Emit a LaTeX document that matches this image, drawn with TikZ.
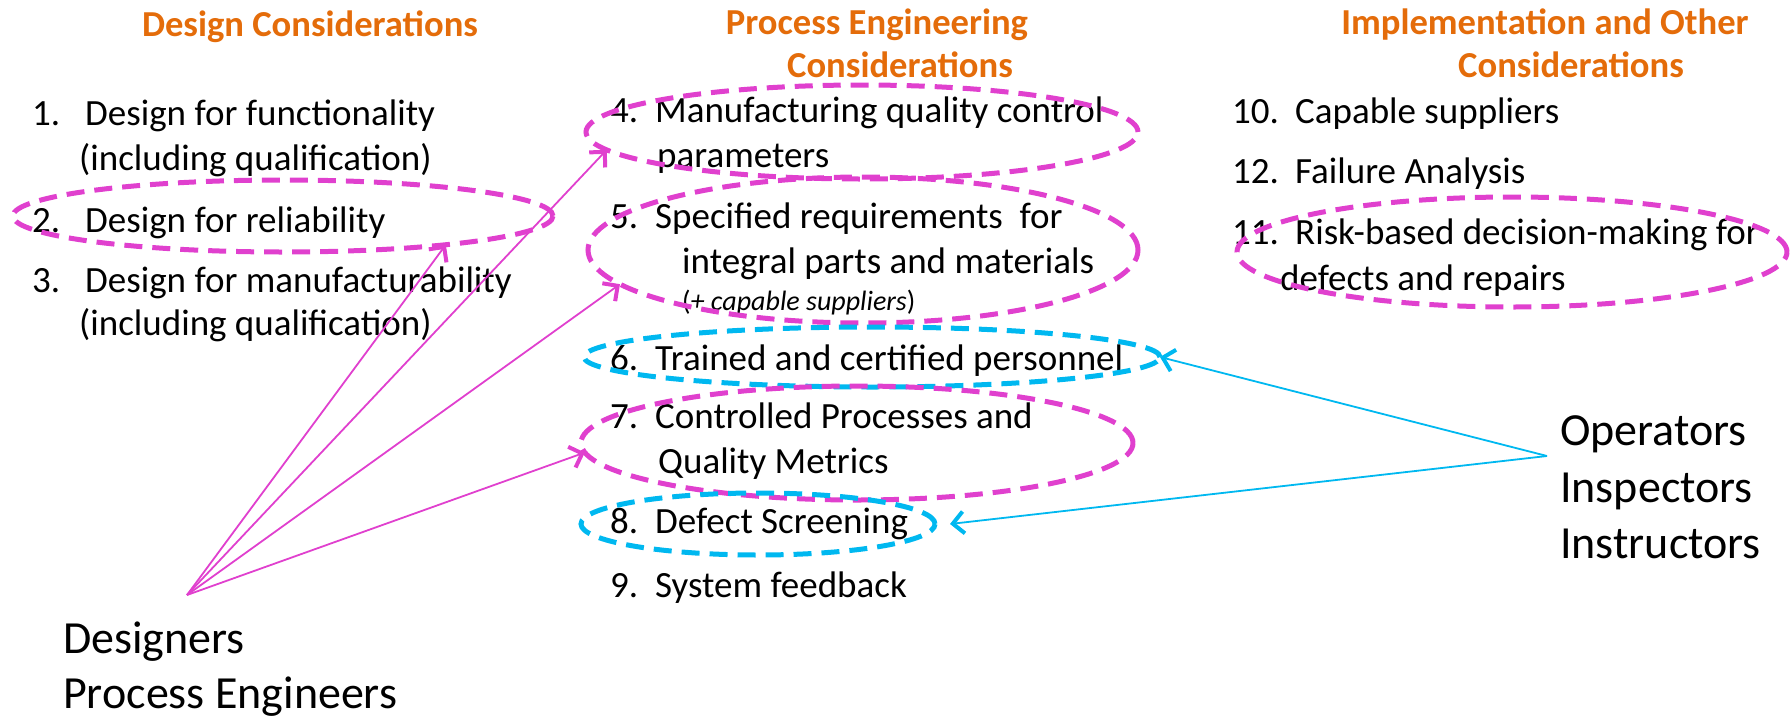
\documentclass[tikz,border=0pt]{standalone}
\usepackage{fontspec}
\setmainfont{Carlito}
\usetikzlibrary{shapes.geometric,arrows.meta}
\definecolor{mag}{RGB}{224,64,206}
\definecolor{cyanb}{RGB}{0,184,240}
\definecolor{hdrorange}{RGB}{228,108,10}
\tikzset{
  txt/.style={anchor=base west, inner sep=0pt, font=\fontsize{37}{44}\selectfont},
  hdr/.style={anchor=base, inner sep=0pt, text=hdrorange, font=\fontsize{36.6}{44}\selectfont\bfseries},
  big/.style={anchor=base west, inner sep=0pt, font=\fontsize{46}{56}\selectfont},
  smalltxt/.style={anchor=base west, inner sep=0pt, font=\fontsize{28}{34}\selectfont},
  ring/.style={ellipse, draw, line width=5pt, dash pattern=on 18pt off 10pt, inner sep=0pt, outer sep=0pt},
  mring/.style={ring, draw=mag},
  bring/.style={ring, draw=cyanb},
  marr/.style={draw=mag, line width=1.8pt, -{Straight Barb[length=11pt,width=22pt,line width=4pt]}},
  barr/.style={draw=cyanb, line width=1.8pt, -{Straight Barb[length=11pt,width=22pt,line width=4pt]}},
}
\begin{document}
\begin{tikzpicture}[x=1pt,y=-1pt]
\useasboundingbox (0,0) rectangle (1792,718);
% headers
\node[hdr] (h1) at (310,36) {Design Considerations};
\node[hdr] (h2a) at (877,34) {Process Engineering};
\node[hdr] (h2b) at (900,77) {Considerations};
\node[hdr] (h3a) at (1545,34) {Implementation and Other};
\node[hdr] (h3b) at (1571,77) {Considerations};
% left column
\node[txt] (n1) at (32,125) {1.};
\node[txt] (t1) at (85,125) {Design for functionality};
\node[txt] (t1b) at (79,170) {(including qualification)};
\node[txt] (n2) at (32,232) {2.};
\node[txt] (t2) at (85,232) {Design for reliability};
\node[txt] (n3) at (32,292) {3.};
\node[txt] (t3) at (85,292) {Design for manufacturability};
\node[txt] (t3b) at (79,335) {(including qualification)};
% middle column
\node[txt] (n4) at (610,122) {4.};
\node[txt] (t4) at (655,122) {Manufacturing quality control};
\node[txt] (t4b) at (657,167) {parameters};
\node[txt] (n5) at (610,228) {5.};
\node[txt] (t5) at (655,228) {Specified requirements\ \ for};
\node[txt] (t5b) at (682,273) {integral parts and materials};
\node[smalltxt] (t5c) at (682,310) {(\textit{+ capable suppliers})};
\node[txt] (n6) at (610,370) {6.};
\node[txt] (t6) at (655,370) {Trained and certified personnel};
\node[txt] (n7) at (610,428) {7.};
\node[txt] (t7) at (655,428) {Controlled Processes and};
\node[txt] (t7b) at (658,473) {Quality Metrics};
\node[txt] (n8) at (610,533) {8.};
\node[txt] (t8) at (655,533) {Defect Screening};
\node[txt] (n9) at (610,597) {9.};
\node[txt] (t9) at (655,597) {System feedback};
% right column
\node[txt] (n10) at (1232,123) {10.};
\node[txt] (t10) at (1295,123) {Capable suppliers};
\node[txt] (n12) at (1232,183) {12.};
\node[txt] (t12) at (1295,183) {Failure Analysis};
\node[txt] (n11) at (1232,244) {11.};
\node[txt] (t11) at (1295,244) {Risk-based decision-making for};
\node[txt] (t11b) at (1280,290) {defects and repairs};
% actors
\node[big] (des) at (63,653) {Designers};
\node[big] (pe) at (63,708) {Process Engineers};
\node[big] (op) at (1560,445) {Operators};
\node[big] (insp) at (1560,502) {Inspectors};
\node[big] (instr) at (1560,558) {Instructors};
% ellipses
\node[mring, minimum width=540pt, minimum height=72pt] (e2) at (283,216) {};
\node[mring, minimum width=552pt, minimum height=94pt] (e4) at (862,132) {};
\node[mring, minimum width=550pt, minimum height=146pt] (e5) at (863,250) {};
\node[bring, minimum width=576pt, minimum height=60pt] (e6) at (872,357) {};
\node[mring, minimum width=552pt, minimum height=114pt] (e7) at (857,443) {};
\node[bring, minimum width=354pt, minimum height=62pt] (e8) at (758,524) {};
\node[mring, minimum width=550pt, minimum height=110pt] (e11) at (1512,252) {};
% arrow origins
\coordinate (dorig) at (187,595);
\coordinate (oorig) at (1547,456);
\coordinate (t8tip) at ([xshift=15pt]e8.east);
% arrows
\draw[marr] (dorig) -- (e2.-10);
\draw[marr] (dorig) -- (e4.184);
\draw[marr] (dorig) -- (e5.188);
\draw[marr] (dorig) -- (e7.182);
\draw[barr] (oorig) -- (e6.east);
\draw[barr] (oorig) -- (t8tip);
\end{tikzpicture}
\end{document}
